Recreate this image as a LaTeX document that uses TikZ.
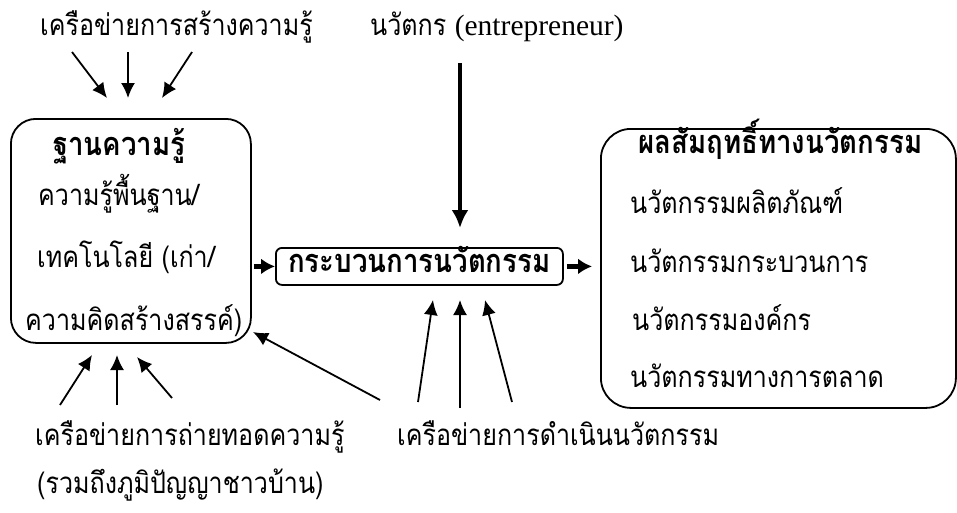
\documentclass[tikz,border=0pt]{standalone}
\usepackage{fontspec}
\setmainfont{Liberation Serif}
\newfontfamily\thai[Script=Thai,FakeStretch=0.85]{Loma}
\usetikzlibrary{arrows.meta}

\tikzset{
  flow/.style={-{Latex[length=15pt,width=14pt]},line width=1.8pt},
  bigflow/.style={-{Latex[length=18pt,width=17pt]},line width=4pt},
  stub/.style={-{Latex[length=14pt,width=16pt]},line width=5pt},
  txt/.style={anchor=base west,inner sep=0pt,font=\thai\fontsize{29.5}{34}\selectfont},
  head/.style={txt,font=\thai\bfseries\fontsize{32.5}{36}\selectfont},
  bigbox/.style={draw,line width=1.8pt,rounded corners=25pt,inner sep=0pt}
}

\begin{document}
\begin{tikzpicture}[x=1pt,y=-1pt]
  \useasboundingbox (0,0) rectangle (957,512);

  % top texts
  \draw (40,35) node[txt] (kcreate) {เครือข่ายการสร้างความรู้};
  \draw (370,35) node[txt] (innov) {นวัตกร {\rmfamily\fontsize{29.5}{34}\selectfont (entrepreneur)}};

  % left box
  \draw (10,118) node[bigbox,anchor=north west,minimum width=240pt,minimum height=224pt] (kbase) {};
  \draw (53,155) node[head] (kbhead) {ฐานความรู้};
  \draw (38,205) node[txt] (kb1) {ความรู้พื้นฐาน/};
  \draw (37,267) node[txt] (kb2) {เทคโนโลยี (เก่า/};
  \draw (25,330) node[txt] (kb3) {ความคิดสร้างสรรค์)};

  % middle box
  \draw (275,247) node[draw,line width=1.8pt,rounded corners=6pt,anchor=north west,
     minimum width=287pt,minimum height=37pt,inner sep=3pt,text height=22pt,text depth=9pt,
     font=\thai\bfseries\fontsize{32.5}{36}\selectfont] (proc) {กระบวนการนวัตกรรม};

  % right box
  \draw (600,128) node[bigbox,rounded corners=30pt,anchor=north west,minimum width=355pt,minimum height=279pt] (result) {};
  \draw (638,153) node[head] (rhead) {ผลสัมฤทธิ์ทางนวัตกรรม};
  \draw (630,213) node[txt] (r1) {นวัตกรรมผลิตภัณฑ์};
  \draw (630,272) node[txt] (r2) {นวัตกรรมกระบวนการ};
  \draw (632,330) node[txt] (r3) {นวัตกรรมองค์กร};
  \draw (630,387) node[txt] (r4) {นวัตกรรมทางการตลาด};

  % bottom texts
  \draw (35,445) node[txt] (ktrans) {เครือข่ายการถ่ายทอดความรู้};
  \draw (37,493) node[txt] (ktrans2) {(รวมถึงภูมิปัญญาชาวบ้าน)};
  \draw (397,445) node[txt] (opnet) {เครือข่ายการดำเนินนวัตกรรม};

  % arrow ends
  \coordinate (a1) at (72,52);   \coordinate (b1) at (107,98);
  \coordinate (a2) at (128,52);  \coordinate (b2) at (128,98);
  \coordinate (a3) at (192,52);  \coordinate (b3) at (162,98);
  \coordinate (e1) at (460,63);  \coordinate (f1) at (460,228);
  \coordinate (c1) at (60,405);  \coordinate (d1) at (92,355);
  \coordinate (c2) at (117,405); \coordinate (d2) at (117,355);
  \coordinate (c3) at (172,398); \coordinate (d3) at (137,357);
  \coordinate (c4) at (380,400); \coordinate (d4) at (253,332);
  \coordinate (g1) at (418,402); \coordinate (h1) at (433,300);
  \coordinate (g2) at (460,408); \coordinate (h2) at (460,300);
  \coordinate (g3) at (512,402); \coordinate (h3) at (485,300);

  \path[flow] (a1) edge (b1) (a2) edge (b2) (a3) edge (b3);
  \path[bigflow] (e1) edge (f1);
  \path[stub,shorten <=2pt] (kbase.east |- proc.west) edge (proc.west);
  \path[stub,shorten <=3pt,shorten >=8pt] (proc.east) edge (result.west |- proc.east);
  \path[flow] (c1) edge (d1) (c2) edge (d2) (c3) edge (d3) (c4) edge (d4);
  \path[flow] (g1) edge (h1) (g2) edge (h2) (g3) edge (h3);

\end{tikzpicture}
\end{document}
